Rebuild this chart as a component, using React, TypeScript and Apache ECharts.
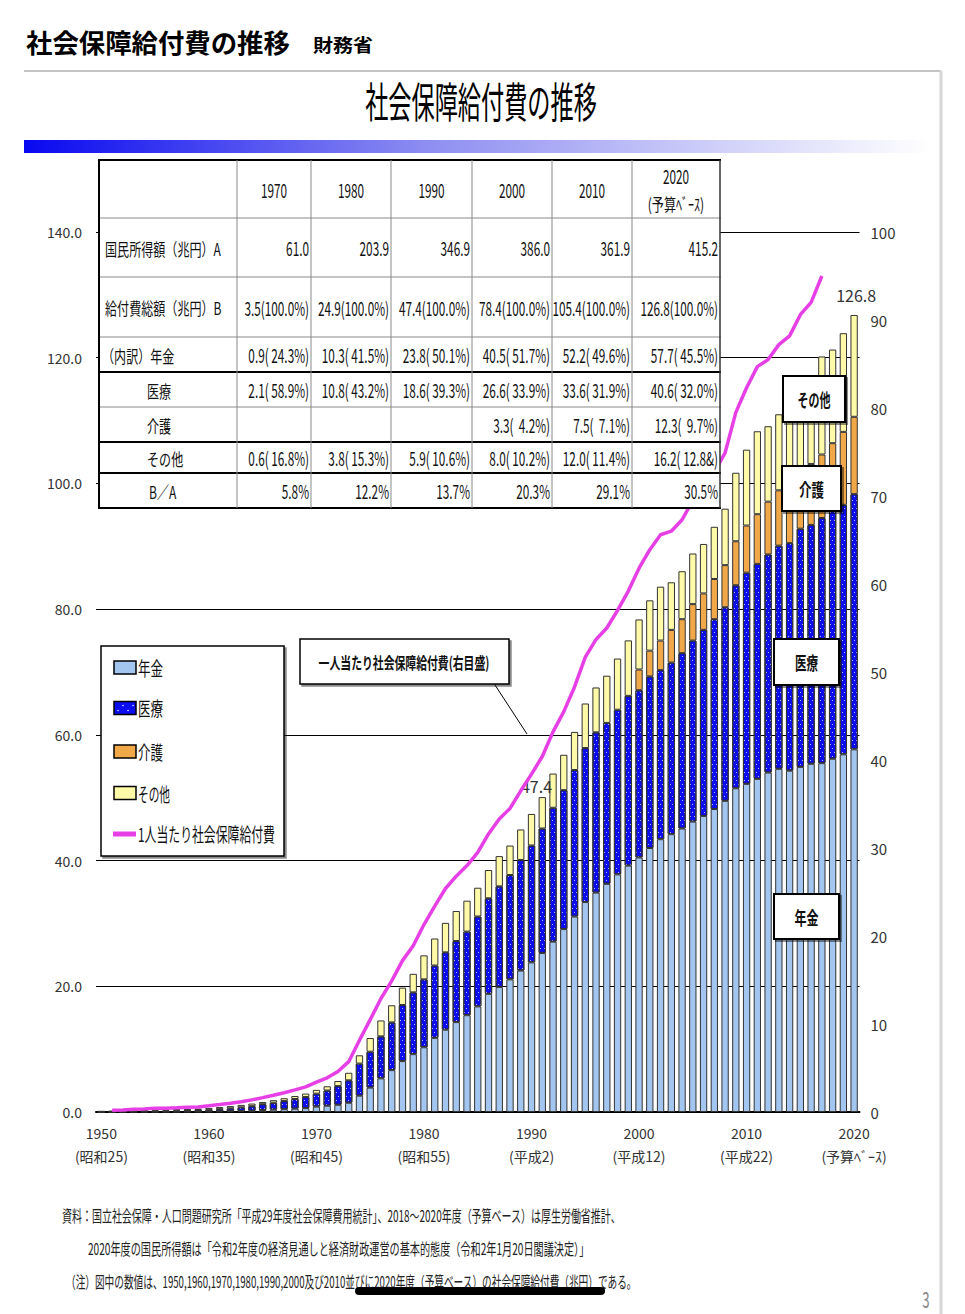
import React, { useEffect, useRef } from 'react';
import * as echarts from 'echarts';

// ---------- data ----------
const years: string[] = Array.from({ length: 71 }, (_, i) => String(1950 + i));

const eraLabels: Record<string, string> = {
  '1950': '(昭和25)',
  '1960': '(昭和35)',
  '1970': '(昭和45)',
  '1980': '(昭和55)',
  '1990': '(平成2)',
  '2000': '(平成12)',
  '2010': '(平成22)',
  '2020': '(予算ﾍﾞｰｽ)',
};

// 兆円
const pension = [
  0.0, 0.01, 0.01, 0.02, 0.02, 0.02, 0.03, 0.03, 0.04, 0.05,
  0.07, 0.09, 0.12, 0.15, 0.19, 0.32, 0.38, 0.45, 0.53, 0.62,
  0.86, 1.0, 1.15, 1.47, 2.6, 3.88, 5.35, 6.66, 8.1, 9.2,
  10.3, 11.8, 13.1, 14.3, 15.4, 16.8, 18.8, 19.9, 21.1, 22.5,
  23.8, 25.3, 27.1, 29.1, 31.1, 33.4, 34.9, 36.3, 37.8, 39.2,
  40.5, 42.0, 43.4, 44.2, 45.1, 46.2, 47.1, 48.2, 49.5, 51.5,
  52.2, 53.0, 54.0, 54.6, 54.3, 54.9, 55.4, 55.5, 56.2, 56.9, 57.7,
];
const medical = [
  0.06, 0.07, 0.1, 0.13, 0.15, 0.19, 0.2, 0.22, 0.25, 0.27,
  0.27, 0.36, 0.46, 0.59, 0.73, 0.92, 1.09, 1.29, 1.54, 1.76,
  2.06, 2.42, 2.97, 3.57, 5.1, 5.71, 6.68, 7.59, 8.92, 9.83,
  10.8, 11.5, 12.3, 12.9, 13.3, 14.3, 15.2, 16.0, 16.6, 17.6,
  18.6, 19.8, 21.3, 22.1, 23.3, 24.5, 25.5, 25.6, 26.2, 27.0,
  26.6, 27.3, 26.9, 27.3, 27.9, 28.8, 29.6, 30.2, 30.8, 32.3,
  33.6, 34.2, 34.7, 35.5, 36.2, 37.9, 38.0, 39.0, 39.5, 39.7, 40.6,
];
const care = [
  null, null, null, null, null, null, null, null, null, null,
  null, null, null, null, null, null, null, null, null, null,
  null, null, null, null, null, null, null, null, null, null,
  null, null, null, null, null, null, null, null, null, null,
  null, null, null, null, null, null, null, null, null, null,
  3.3, 4.1, 4.7, 5.2, 5.4, 5.8, 5.8, 6.4, 6.7, 7.0,
  7.5, 7.9, 8.4, 8.8, 9.2, 9.4, 9.7, 10.1, 10.7, 11.6, 12.3,
];
const other = [
  0.07, 0.08, 0.1, 0.11, 0.13, 0.18, 0.17, 0.18, 0.2, 0.22,
  0.31, 0.34, 0.36, 0.39, 0.42, 0.36, 0.41, 0.45, 0.48, 0.55,
  0.6, 0.67, 0.81, 1.2, 1.32, 2.18, 2.53, 2.73, 2.76, 2.95,
  3.82, 4.3, 4.69, 4.78, 4.92, 4.58, 4.5, 4.81, 4.69, 4.85,
  5.02, 5.0, 5.44, 5.63, 6.07, 7.09, 7.14, 7.51, 8.14, 8.83,
  7.96, 8.0, 8.57, 7.57, 7.63, 8.05, 7.87, 8.3, 8.98, 10.9,
  12.07, 13.2, 12.0, 12.1, 12.4, 12.7, 13.6, 15.6, 14.9, 15.7, 16.2,
];
// 万円 (right axis)
const perCapita = [
  null, 0.19, 0.24, 0.3, 0.34, 0.44, 0.44, 0.47, 0.53, 0.58,
  0.7, 0.84, 0.99, 1.17, 1.38, 1.63, 1.9, 2.19, 2.52, 2.86,
  3.39, 3.88, 4.6, 5.72, 8.16, 10.5, 12.9, 14.9, 17.2, 18.9,
  21.3, 23.4, 25.4, 26.8, 28.0, 29.5, 31.6, 33.3, 34.5, 36.5,
  38.4, 40.4, 43.2, 45.5, 48.3, 51.7, 53.7, 55.0, 57.0, 59.2,
  61.8, 63.9, 65.6, 66.0, 67.3, 69.5, 70.7, 72.7, 74.9, 79.5,
  82.3, 84.7, 85.5, 87.2, 88.2, 90.6, 92.0, 95.0, null, null, null,
];

const labeledYears = ['1990', '2020'];

// table
const tableYears = ['1970', '1980', '1990', '2000', '2010', '2020'];
const nationalIncome = ['61.0', '203.9', '346.9', '386.0', '361.9', '415.2'];
const benefitTotal = ['3.5(100.0%)', '24.9(100.0%)', '47.4(100.0%)', '78.4(100.0%)', '105.4(100.0%)', '126.8(100.0%)'];
const pensionRow = ['0.9( 24.3%)', '10.3( 41.5%)', '23.8( 50.1%)', '40.5( 51.7%)', '52.2( 49.6%)', '57.7( 45.5%)'];
const medicalRow = ['2.1( 58.9%)', '10.8( 43.2%)', '18.6( 39.3%)', '26.6( 33.9%)', '33.6( 31.9%)', '40.6( 32.0%)'];
const careRow = ['', '', '', '3.3(  4.2%)', '7.5(  7.1%)', '12.3(  9.7%)'];
const otherRow = ['0.6( 16.8%)', '3.8( 15.3%)', '5.9( 10.6%)', '8.0( 10.2%)', '12.0( 11.4%)', '16.2( 12.8&)'];
const ratioRow = ['5.8%', '12.2%', '13.7%', '20.3%', '29.1%', '30.5%'];

// ---------- styling helpers ----------
const FONT = "'Noto Sans CJK JP', 'Noto Sans', sans-serif";
const NUM_FONT = "'Noto Sans CJK JP', 'Noto Sans', sans-serif";

const C_PENSION = '#a3c6f0';
const C_MEDICAL = '#0c0cf0';
const C_CARE = '#f0a848';
const C_OTHER = '#fefaa8';
const C_LINE = '#e63fe6';

let measureCtx: CanvasRenderingContext2D | null = null;
function textWidth(text: string, size: number, weight: string, family: string) {
  if (!measureCtx) measureCtx = document.createElement('canvas').getContext('2d');
  if (!measureCtx) return text.length * size;
  measureCtx.font = `${weight} ${size}px ${family}`;
  return measureCtx.measureText(text).width || text.length * size;
}

type TOpts = { align?: string; weight?: string; color?: string; scale?: number; width?: number; z?: number; family?: string };
function txt(text: string, x: number, y: number, size: number, o: TOpts = {}) {
  const weight = o.weight ?? 'normal';
  const family = o.family ?? FONT;
  let sx = o.scale ?? 1;
  if (o.width) sx = o.width / textWidth(text, size, weight, family);
  const align = o.align ?? 'left';
  return {
    type: 'text',
    x,
    y,
    scaleX: sx,
    z: o.z ?? 110,
    silent: true,
    style: {
      text,
      fill: o.color ?? '#111',
      fontSize: size,
      fontWeight: weight,
      fontFamily: family,
      align,
      textAlign: align,
      verticalAlign: 'middle',
      textVerticalAlign: 'middle',
    },
  };
}
function line(x1: number, y1: number, x2: number, y2: number, stroke: string, lineWidth: number, z = 102) {
  return { type: 'line', silent: true, z, shape: { x1, y1, x2, y2 }, style: { stroke, lineWidth } };
}
function box(x: number, y: number, w: number, h: number, z = 105, lw = 2) {
  return {
    type: 'rect',
    silent: true,
    z,
    shape: { x, y, width: w, height: h },
    style: { fill: '#fff', stroke: '#000', lineWidth: lw, shadowColor: 'rgba(0,0,0,0.45)', shadowOffsetX: 2, shadowOffsetY: 2, shadowBlur: 0 },
  };
}

function buildGraphics() {
  const g: any[] = [];
  // page frame
  g.push(line(24, 71, 941, 71, '#c4c4c4', 2, 90));
  g.push(line(941, 71, 941, 1314, '#d6d6d6', 3, 90));
  g.push(txt('社会保障給付費の推移', 26, 42, 26, { weight: 'bold', width: 264, color: '#000' }));
  g.push(txt('財務省', 313, 44, 18, { weight: 'bold', width: 60, color: '#000' }));
  g.push(txt('社会保障給付費の推移', 481, 100, 42, { align: 'center', width: 232, color: '#000' }));
  g.push({
    type: 'rect',
    silent: true,
    z: 90,
    shape: { x: 24, y: 140, width: 906, height: 13 },
    style: {
      fill: new echarts.graphic.LinearGradient(0, 0, 1, 0, [
        { offset: 0, color: '#0808f0' },
        { offset: 0.45, color: '#8f8ff2' },
        { offset: 1, color: '#ffffff' },
      ]),
    },
  });

  // table
  const colX = [99, 237, 311, 391, 472, 552, 632, 720];
  const rowY = [160, 218, 277, 337, 372, 407, 442, 473, 508];
  g.push({ type: 'rect', silent: true, z: 100, shape: { x: 99, y: 160, width: 621, height: 348 }, style: { fill: '#fff' } });
  const thick = [0, 4, 6, 7, 8];
  rowY.forEach((y, i) => {
    const t = thick.includes(i);
    g.push(line(98, y, 721, y, t ? '#000' : '#8a8a8a', t ? 2 : 1));
  });
  colX.forEach((x, i) => {
    const edge = i === 0;
    const right = i === colX.length - 1;
    g.push(line(x, 160, x, 508, edge ? '#000' : right ? '#333' : '#8a8a8a', edge ? 2 : right ? 1.5 : 1));
  });
  const NS = 19; // number size
  const NX = 0.62; // number condense
  const JS = 17; // japanese size
  const JX = 0.71;
  tableYears.forEach((yr, j) => {
    const cx = (colX[j + 1] + colX[j + 2]) / 2;
    if (j === tableYears.length - 1) {
      g.push(txt(yr, cx, 176, NS, { align: 'center', scale: NX }));
      g.push(txt('(予算ﾍﾞｰｽ)', cx, 204, JS, { align: 'center', scale: JX }));
    } else {
      g.push(txt(yr, cx, 190, NS, { align: 'center', scale: NX }));
    }
  });
  const rows = [
    { label: '国民所得額（兆円）A', x: 105, values: nationalIncome },
    { label: '給付費総額（兆円）B', x: 105, values: benefitTotal },
    { label: '（内訳）年金', x: 102, values: pensionRow },
    { label: '医療', x: 147, values: medicalRow },
    { label: '介護', x: 147, values: careRow },
    { label: 'その他', x: 147, values: otherRow },
    { label: 'B／A', x: 149, values: ratioRow },
  ];
  rows.forEach((r, i) => {
    const cy = (rowY[i + 1] + rowY[i + 2]) / 2 + 1;
    g.push(txt(r.label, r.x, cy, JS, { scale: JX }));
    r.values.forEach((v, j) => {
      if (!v) return;
      g.push(txt(v, colX[j + 2] - 2, cy, NS, { align: 'right', scale: NX }));
    });
  });

  // legend
  g.push(box(101, 646, 183, 210, 105, 1.5));
  const legendItems = [
    { name: '年金', color: C_PENSION, y: 667.5, w: 25 },
    { name: '医療', color: C_MEDICAL, y: 708, w: 25 },
    { name: '介護', color: C_CARE, y: 751.5, w: 25 },
    { name: 'その他', color: C_OTHER, y: 793, w: 32 },
  ];
  legendItems.forEach((it) => {
    g.push({
      type: 'rect',
      silent: true,
      z: 106,
      shape: { x: 114, y: it.y - 6.5, width: 22, height: 13 },
      style: { fill: it.color, stroke: '#000', lineWidth: 1.5 },
    });
    g.push(txt(it.name, 138, it.y, 19, { width: it.w, z: 107 }));
  });
  [118, 123, 128, 133].forEach((dx, k) =>
    g.push({ type: 'circle', silent: true, z: 107, shape: { cx: dx, cy: k % 2 ? 705.5 : 710.5, r: 0.7 }, style: { fill: '#fff' } })
  );
  g.push(line(113, 834, 136, 834, C_LINE, 5, 106));
  g.push(txt('1人当たり社会保障給付費', 138, 834, 19, { width: 137, z: 107 }));

  // callout for line
  g.push(line(495, 685, 527, 734, '#000', 1, 104));
  g.push(box(300, 639, 209, 45, 105, 1.5));
  g.push(txt('一人当たり社会保障給付費(右目盛)', 404, 662, 16, { align: 'center', weight: 'bold', width: 171, z: 107 }));

  // series name boxes
  const tags = [
    { t: 'その他', x: 783, y: 376, w: 62, h: 46, tw: 33 },
    { t: '介護', x: 782, y: 466, w: 59, h: 45, tw: 25 },
    { t: '医療', x: 774, y: 639, w: 65, h: 46, tw: 23 },
    { t: '年金', x: 774, y: 894, w: 65, h: 45, tw: 24 },
  ];
  tags.forEach((b) => {
    g.push(box(b.x, b.y, b.w, b.h, 105, 2));
    g.push(txt(b.t, b.x + b.w / 2, b.y + b.h / 2, 18, { align: 'center', weight: 'bold', width: b.tw, z: 107 }));
  });

  // footnotes
  g.push(txt('資料：国立社会保障・人口問題研究所「平成29年度社会保障費用統計」、2018～2020年度（予算ベース）は厚生労働省推計、', 62, 1215, 16, { width: 560, color: '#222' }));
  g.push(txt('2020年度の国民所得額は「令和2年度の経済見通しと経済財政運営の基本的態度（令和2年1月20日閣議決定）」', 88, 1248, 16, { width: 502, color: '#222' }));
  g.push(txt('（注）図中の数値は、1950,1960,1970,1980,1990,2000及び2010並びに2020年度（予算ベース）の社会保障給付費（兆円）である。', 66, 1281, 16, { width: 572, color: '#222' }));
  g.push({ type: 'rect', silent: true, z: 111, shape: { x: 355, y: 1287, width: 250, height: 8, r: 4 }, style: { fill: '#000' } });
  g.push(txt('3', 926, 1298, 22, { align: 'center', scale: 0.6, color: '#888' }));
  return g;
}

function buildOption() {
  const totals = years.map((_, i) => pension[i] + medical[i] + (care[i] ?? 0) + other[i]);
  const labelLayout: Record<string, { distance: number; offset: number[] }> = {
    '1990': { distance: 20, offset: [5, 0] },
    '2020': { distance: 12, offset: [2, 0] },
  };
  const otherData = other.map((v, i) => {
    const y = years[i];
    if (!labeledYears.includes(y)) return v;
    const lay = labelLayout[y];
    return {
      value: v,
      label: {
        show: true,
        position: 'top',
        distance: lay.distance,
        offset: lay.offset,
        formatter: totals[i].toFixed(1),
        fontSize: 16,
        color: '#333',
        fontFamily: NUM_FONT,
      },
    };
  });
  const border = { borderColor: '#333', borderWidth: 1 };
  return {
    animation: false,
    backgroundColor: '#ffffff',
    grid: { left: 96, right: 105.5, top: 232, bottom: 202, containLabel: false },
    xAxis: {
      type: 'category',
      data: years,
      axisLine: { lineStyle: { color: '#000', width: 2 } },
      axisTick: { show: false },
      axisLabel: {
        interval: (_i: number, v: string) => v in eraLabels,
        formatter: (v: string) => `${v}\n${eraLabels[v] ?? ''}`,
        fontSize: 14,
        lineHeight: 23,
        color: '#333',
        margin: 9,
        fontFamily: NUM_FONT,
      },
    },
    yAxis: [
      {
        type: 'value',
        min: 0,
        max: 140,
        interval: 20,
        axisLine: { show: false },
        axisTick: { show: false },
        splitLine: { show: true, lineStyle: { color: '#000', width: 1 } },
        axisLabel: { formatter: (v: number) => v.toFixed(1), fontSize: 14, color: '#333', margin: 14, fontFamily: NUM_FONT },
      },
      {
        type: 'value',
        min: 0,
        max: 100,
        interval: 10,
        position: 'right',
        axisLine: { show: false },
        axisTick: { show: false },
        splitLine: { show: false },
        axisLabel: { fontSize: 15, color: '#333', margin: 11, fontFamily: NUM_FONT },
      },
    ],
    series: [
      { name: '年金', type: 'bar', stack: 'total', barCategoryGap: '32%', data: pension, itemStyle: { color: C_PENSION, ...border } },
      {
        name: '医療',
        type: 'bar',
        stack: 'total',
        data: medical,
        itemStyle: {
          color: C_MEDICAL,
          ...border,
          decal: {
            symbol: 'rect',
            symbolSize: 1,
            color: 'rgba(215,215,255,0.85)',
            dashArrayX: [[1, 3], [0, 2, 1, 1]],
            dashArrayY: [1, 3],
            rotation: 0,
          },
        },
      },
      { name: '介護', type: 'bar', stack: 'total', data: care, itemStyle: { color: C_CARE, ...border } },
      { name: 'その他', type: 'bar', stack: 'total', data: otherData, itemStyle: { color: C_OTHER, ...border } },
      {
        name: '1人当たり社会保障給付費',
        type: 'line',
        yAxisIndex: 1,
        data: perCapita,
        symbol: 'none',
        connectNulls: false,
        lineStyle: { color: C_LINE, width: 3.5 },
        itemStyle: { color: C_LINE },
        z: 5,
      },
    ],
    graphic: buildGraphics(),
  };
}

export default function App() {
  const ref = useRef<HTMLDivElement>(null);
  useEffect(() => {
    if (!ref.current) return;
    const chart = echarts.init(ref.current, null, { renderer: 'svg' });
    chart.setOption(buildOption() as any);
    return () => chart.dispose();
  }, []);
  return (
    <div
      ref={ref}
      style={{ position: 'absolute', left: 0, top: 0, width: 965, height: 1314, background: '#fff' }}
    />
  );
}
